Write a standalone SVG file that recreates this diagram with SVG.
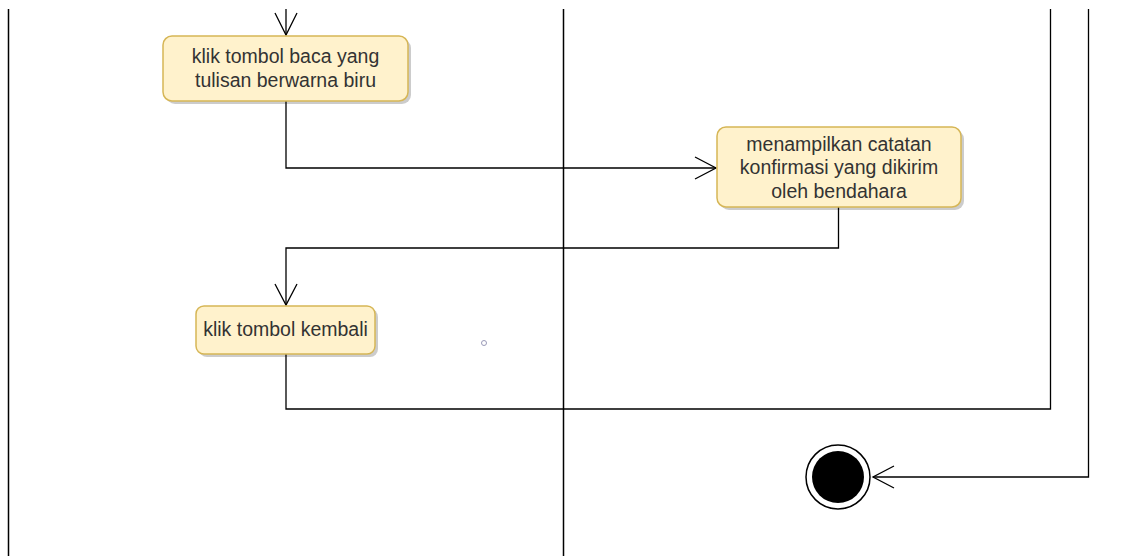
<svg xmlns="http://www.w3.org/2000/svg" width="1134" height="556" viewBox="0 0 1134 556">
<style>
.lane{stroke:#000;stroke-width:1.5;fill:none}
.act{fill:#FFF2CC;stroke:#D6B656;stroke-width:1.5}
.shadow{fill:#000;opacity:0.2}
.t{font-family:"Liberation Sans",Arial,sans-serif;font-size:19.5px;fill:#333;text-anchor:middle}
.edge{stroke:#000;stroke-width:1.3;fill:none}
.head{stroke:#000;stroke-width:1.3;fill:none}
</style>
<rect width="1134" height="556" fill="#fff"/>
<g id="lanes">
<line class="lane" x1="8.5" y1="9" x2="8.5" y2="556"/>
<line class="lane" x1="563.5" y1="9" x2="563.5" y2="556"/>
</g>
<g id="connectors">
<path class="edge" d="M286 9 V35"/>
<path class="head" d="M275 13 L286 35 L297 13"/>
<path class="edge" d="M286 101 V168 H716"/>
<path class="head" d="M695 157 L716 168 L695 179"/>
<path class="edge" d="M838.5 207 V248 H286 V305"/>
<path class="head" d="M275 284 L286 305 L297 284"/>
<path class="edge" d="M286 354 V409 H1050.5 V9"/>
<path class="edge" d="M1088.5 9 V477 H873"/>
<path class="head" d="M894 466 L873 477 L894 488"/>
</g>
<g id="n1">
<rect class="shadow" x="166" y="39" width="245" height="65" rx="9"/>
<rect class="act" x="163" y="36" width="245" height="65" rx="9"/>
<text class="t" x="285.5" y="63">klik tombol baca yang</text>
<text class="t" x="285.5" y="87">tulisan berwarna biru</text>
</g>
<g id="n2">
<rect class="shadow" x="720" y="130" width="244" height="80" rx="9"/>
<rect class="act" x="717" y="127" width="244" height="80" rx="9"/>
<text class="t" x="839" y="151">menampilkan catatan</text>
<text class="t" x="839" y="174">konfirmasi yang dikirim</text>
<text class="t" x="839" y="198">oleh bendahara</text>
</g>
<g id="n3">
<rect class="shadow" x="199" y="309" width="179" height="48" rx="8"/>
<rect class="act" x="196" y="306" width="179" height="48" rx="8"/>
<text class="t" x="285.5" y="336">klik tombol kembali</text>
</g>
<g id="dot">
<circle cx="484" cy="343" r="2.5" fill="none" stroke="#9a9ab8" stroke-width="1"/>
</g>
<g id="end">
<circle cx="838" cy="477" r="32" fill="#fff" stroke="#000" stroke-width="1.5"/>
<circle cx="838" cy="477" r="26" fill="#000"/>
</g>
</svg>
